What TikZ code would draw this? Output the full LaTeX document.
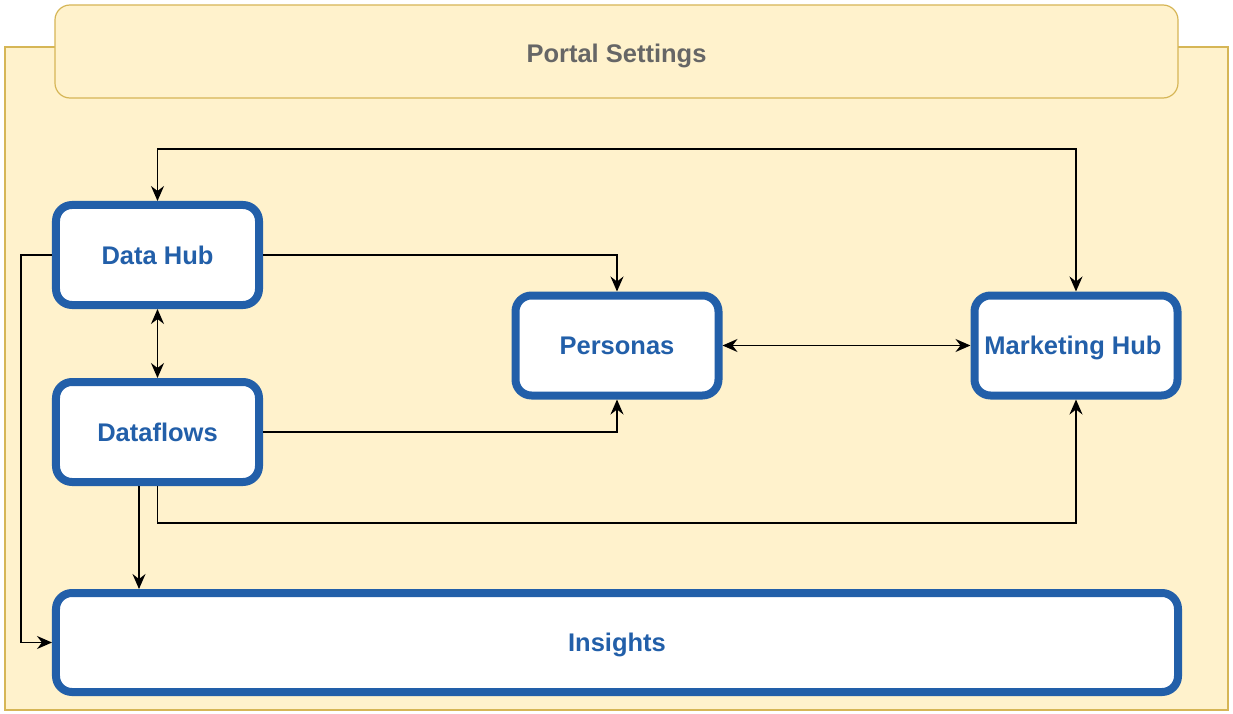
\documentclass[tikz,border=0pt]{standalone}
\usepackage{fontspec}
\setmainfont{Liberation Sans}
\usetikzlibrary{arrows.meta}
\definecolor{cfill}{HTML}{FFF2CC}
\definecolor{cstroke}{HTML}{D6B656}
\definecolor{cblue}{HTML}{225FA9}
\definecolor{cgrey}{HTML}{666666}
\tikzset{
  box/.style={draw=cblue, line width=8bp, fill=white, rounded corners=16bp,
    minimum width=203bp, minimum height=100bp, inner sep=0pt,
    text height=18bp, text depth=0bp,
    font=\fontsize{25.5bp}{30bp}\selectfont\bfseries, text=cblue},
  conn/.style={draw=black, line width=1.5bp, arrows={-Stealth[length=15bp,width=13bp,inset=5bp]}},
  biconn/.style={draw=black, line width=1.5bp,
    arrows={Stealth[length=15bp,width=13bp,inset=5bp]-Stealth[length=15bp,width=13bp,inset=5bp]}},
}
\begin{document}
\begin{tikzpicture}[x=1bp,y=-1bp]
\useasboundingbox (0,0) rectangle (1233,714);
% container
\draw[fill=cfill, draw=cstroke, line width=1.2bp] (5,47) rectangle (1228,710);
\node[draw=cstroke, fill=cfill, line width=1.2bp, rounded corners=15bp,
  minimum width=1123bp, minimum height=93bp, inner sep=0pt,
  text height=23bp, text depth=0bp,
  font=\fontsize{25.5bp}{30bp}\selectfont\bfseries, text=cgrey] (ps) at (616.5,51.5) {Portal Settings};
% nodes
\node[box] (dh) at (157.5,255) {Data Hub};
\node[box] (df) at (157.5,432) {Dataflows};
\node[box] (pe) at (617,345.5) {Personas};
\node[box] (mh) at (1076,345.5) {\hspace*{-6bp}Marketing Hub};
\node[box, minimum width=1122bp, minimum height=99bp] (ins) at (617,642.5) {Insights};
% helper coordinates
\coordinate (ytop) at (0,149);
\coordinate (ybot) at (0,523);
\coordinate (x139) at (139,0);
\coordinate (x21) at (21,0);
% connectors
\draw[biconn] (dh.north) -- (dh.north |- ytop) -| (mh.north);
\draw[conn] (dh.east) -| (pe.north);
\draw[biconn] (dh.south) -- (df.north);
\draw[conn] (df.east) -| (pe.south);
\draw[biconn] (pe.east) -- (mh.west);
\draw[conn] (df.south) -- (df.south |- ybot) -| (mh.south);
\draw[conn] (df.south -| x139) -- (ins.north -| x139);
\draw[conn] (dh.west) -- (dh.west -| x21) |- (ins.west);
\end{tikzpicture}
\end{document}
